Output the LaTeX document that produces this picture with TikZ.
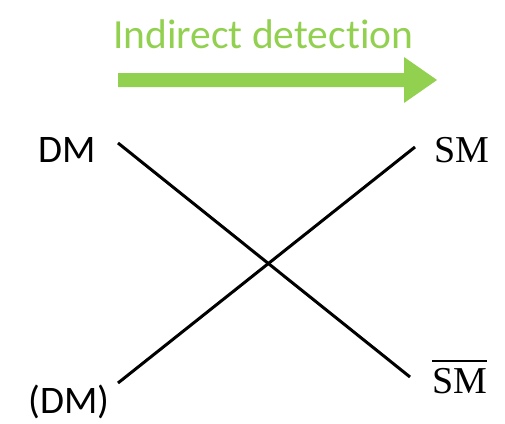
\documentclass[tikz,border=0pt]{standalone}
\usepackage{fontspec}
\newfontfamily\cali[Ligatures=NoCommon]{Carlito}
\newfontfamily\camb{Liberation Serif}
\definecolor{arrowgreen}{RGB}{146,208,80}
\tikzset{
  lbl/.style={inner sep=0pt, anchor=base west},
  sanslbl/.style={lbl, font=\cali\fontsize{39}{39}\selectfont},
  seriflbl/.style={lbl, font=\camb\fontsize{38}{38}\selectfont},
  crossline/.style={line width=3pt, black}
}
\begin{document}
\begin{tikzpicture}[x=1pt,y=-1pt]
\useasboundingbox (0,0) rectangle (505,423);
% heading
\node[lbl, text=arrowgreen, font=\cali\fontsize{41.5}{41.5}\selectfont] (title) at (113,48) {Indirect detection};
% green arrow
\fill[arrowgreen] (118,73) -- (404,73) -- (404,57) -- (437,80) -- (404,103) -- (404,87) -- (118,87) -- cycle;
% labels
\node[sanslbl] (dm) at (38,162) {DM};
\node[sanslbl] (dmb) at (28,413) {(DM)};
\node[seriflbl] (sm) at (434,162) {SM};
\node[seriflbl] (smb) at (432,393) {SM};
\draw[line width=1.8pt] ([yshift=7pt]smb.north west) -- ([yshift=7pt]smb.north east);
% line end points
\coordinate (a1) at (118,143);
\coordinate (a2) at (410,377);
\coordinate (b1) at (118,383);
\coordinate (b2) at (415,147);
\draw[crossline] (a1) -- (a2);
\draw[crossline] (b1) -- (b2);
\end{tikzpicture}
\end{document}
